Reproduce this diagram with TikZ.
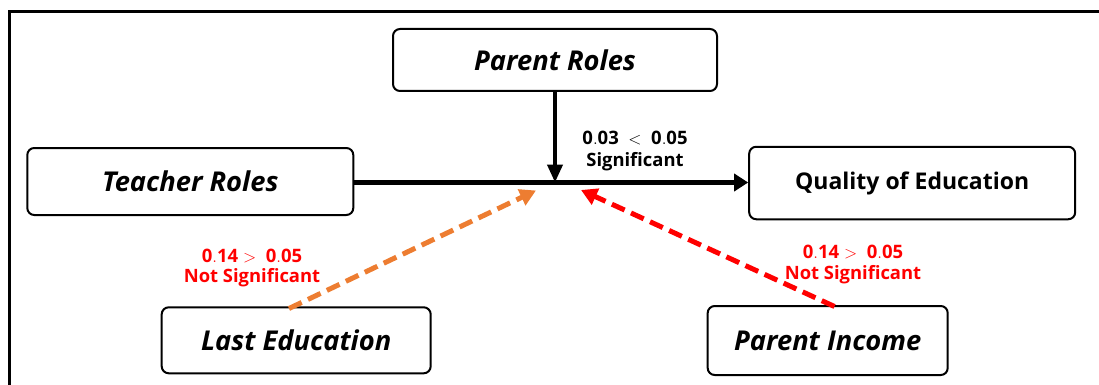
\documentclass[tikz,border=0pt]{standalone}
\usepackage{fontspec}
\setmainfont{Open Sans}
\usetikzlibrary{arrows.meta}
\definecolor{sigorange}{RGB}{237,125,49}
\definecolor{sigred}{RGB}{255,0,0}
\tikzset{
  varbox/.style={draw=black, line width=2pt, rounded corners=7pt, fill=white, inner sep=0pt},
  boxit/.style={font=\bfseries\itshape\fontsize{27.3}{31}\selectfont},
  lbl/.style={font=\bfseries\fontsize{18.4}{21}\selectfont, inner sep=0pt},
  mlbl/.style={font=\fontsize{18.5}{20}\selectfont, inner sep=0pt},
  frame/.style={line width=2.8pt, black},
}
\begin{document}
\begin{tikzpicture}[x=1pt,y=-1pt]
\useasboundingbox (0,0) rectangle (1099,385);
\coordinate (fTR) at (1099,11.5);
\coordinate (fTL) at (9.3,11.5);
\coordinate (fBL) at (9.3,385);
\draw[frame] (fTR) -- (fTL) -- (fBL);

\node[varbox, minimum width=324pt, minimum height=62pt, boxit] (PR) at (555,60) {Parent Roles};
\node[varbox, minimum width=326pt, minimum height=67pt, boxit] (TR) at (190.3,181.5) {Teacher Roles};
\node[varbox, minimum width=326pt, minimum height=72.5pt, font=\bfseries\fontsize{23}{27}\selectfont] (QE) at (912.2,183) {Quality of Education};
\node[varbox, minimum width=269pt, minimum height=66pt, boxit] (LE) at (296.2,340.3) {Last Education};
\node[varbox, minimum width=240pt, minimum height=69pt, boxit] (PI) at (827.7,340.5) {Parent Income};

\coordinate (J) at (555,182.5);
\coordinate (ot) at (536,190.5);
\coordinate (os) at (289,308.5);
\coordinate (rt) at (581,190);
\coordinate (rs) at (834.5,306.5);

\draw[line width=4.8pt, -{Triangle[length=14pt,width=17pt]}] (TR.east|-J) -- (QE.west|-J);
\draw[line width=4pt, -{Triangle[length=18pt,width=15pt]}] (PR.south) -- (J);
\draw[line width=5pt, sigorange, dash pattern=on 14pt off 7pt, -{Triangle[length=16pt,width=17pt]}] (os) -- (ot);
\draw[line width=5pt, sigred, dash pattern=on 14pt off 7pt, -{Triangle[length=16pt,width=17pt]}] (rs) -- (rt);

\node[mlbl] (s1) at (635,138) {$\mathbf{0.03\ <\ 0.05}$};
\node[lbl] (s2) at (635,162) {Significant};
\node[mlbl, text=sigred] (l1) at (252,256) {$\mathbf{0.14>\ 0.05}$};
\node[lbl, text=sigred] (l2) at (252,278) {Not Significant};
\node[mlbl, text=sigred] (r1) at (853,252.5) {$\mathbf{0.14>\ 0.05}$};
\node[lbl, text=sigred] (r2) at (853,275) {Not Significant};
\end{tikzpicture}
\end{document}
